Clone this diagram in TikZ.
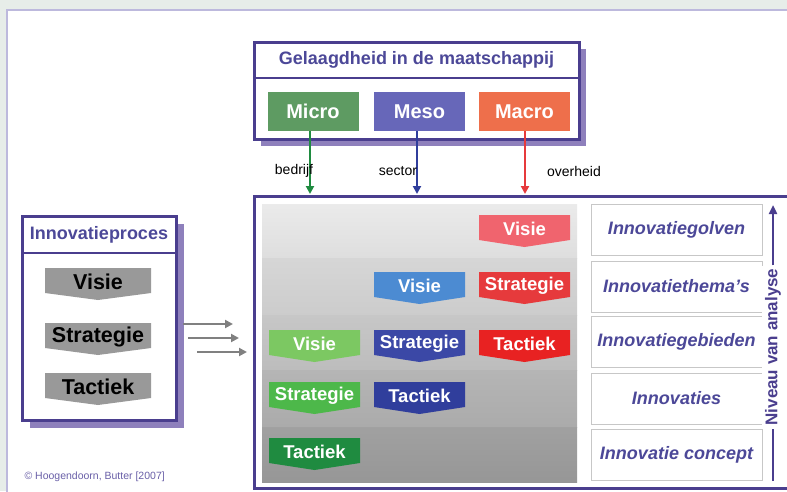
\documentclass[tikz,border=0pt]{standalone}
\usepackage{fontspec}
\setmainfont{Liberation Sans}
\usetikzlibrary{arrows.meta,positioning}

\definecolor{bgrey}{HTML}{E7EDE9}
\definecolor{rim}{HTML}{BDB9DD}
\definecolor{paars}{HTML}{4A3E8E}
\definecolor{schaduw}{HTML}{8E80BC}
\definecolor{titel}{HTML}{4C4898}
\definecolor{micro}{HTML}{5E9B62}
\definecolor{meso}{HTML}{6767B9}
\definecolor{macro}{HTML}{EE6F4B}
\definecolor{groenA}{HTML}{7CC862}
\definecolor{groenB}{HTML}{4DB84A}
\definecolor{groenC}{HTML}{1F8B40}
\definecolor{blauwA}{HTML}{4C8BD2}
\definecolor{blauwB}{HTML}{3B48A6}
\definecolor{blauwC}{HTML}{303E9C}
\definecolor{roodA}{HTML}{F0646E}
\definecolor{roodB}{HTML}{E63A3C}
\definecolor{roodC}{HTML}{E82222}
\definecolor{pijlgrijs}{HTML}{808080}
\definecolor{bronkleur}{HTML}{6A60A8}

\newcommand{\fs}[1]{\fontsize{#1}{#1}\selectfont}

% naam, x, y, breedte, kleur, tekstkleur, tekst
\newcommand{\chevron}[7]{%
  \fill[#5] (#2,#3) -- ++(#4,0) -- ++(0,25) -- ++(-#4/2,7) -- ++(-#4/2,-7) -- cycle;
  \node[chevtekst,text=#6] (#1) at (#2+#4/2,#3+14) {#7};}

\tikzset{
  chevtekst/.style={font=\bfseries\fs{18.5}, inner sep=0pt},
  titeltekst/.style={font=\bfseries\fs{18}, text=titel},
  schaalblok/.style={minimum width=91pt, minimum height=39pt, font=\bfseries\fs{20}, text=white},
  niveaublok/.style={draw=black!22, fill=white, line width=1pt, minimum width=171pt, minimum height=51pt, font=\bfseries\itshape\fs{18}, text=titel},
  pijltekst/.style={font=\fs{14}},
  neerpijl/.style={line width=2pt, -{Triangle[length=8pt,width=8pt]}},
  grijspijl/.style={pijlgrijs, line width=2.2pt, -{Triangle[length=8pt,width=8pt]}}
}

\begin{document}
\begin{tikzpicture}[x=1pt,y=-1pt]
        \useasboundingbox (0,0) rectangle (787,491);
        \fill[bgrey] (0,0) rectangle (787,491);
        \draw[rim, fill=white, line width=1.5pt] (7,10) rectangle (792,496);

        % bovenste blok
        \fill[schaduw] (261,49) rectangle (586,146);
        \draw[paars, line width=3pt, fill=white] (254,42) rectangle (579,139);
        \draw[paars, line width=2pt] (254,78) -- (579,78);
        \node[titeltekst] (gelaagd) at (416.5,60) {Gelaagdheid in de maatschappij};
        \node[schaalblok, fill=micro] (micro) at (313,111.5) {Micro};
        \node[schaalblok, fill=meso] (meso) at (419.5,111.5) {Meso};
        \node[schaalblok, fill=macro] (macro) at (524.5,111.5) {Macro};

        \coordinate (bedrijfpunt) at (310,194);
        \coordinate (sectorpunt) at (417,194);
        \coordinate (overheidpunt) at (525,194);
        \draw[neerpijl, groenC] (micro.south -| bedrijfpunt) -- (bedrijfpunt);
        \draw[neerpijl, blauwC] (meso.south -| sectorpunt) -- (sectorpunt);
        \draw[neerpijl, roodB] (macro.south -| overheidpunt) -- (overheidpunt);
        \node[pijltekst] (bedrijf) at (294,171) {bedrijf};
        \node[pijltekst] (sector) at (398,171) {sector};
        \node[pijltekst] (overheid) at (574,171) {overheid};

        % hoofdblok
        \foreach \boven/\onder/\a/\b in {204/258/8/13, 258/315/16/20, 315/370/22/26, 370/427/29/33, 427/482/37/41}
          \shade[top color=black!\a, bottom color=black!\b] (262,\boven) rectangle (577,\onder);
        \draw[paars, line width=3pt] (254,196) rectangle (792,488);

        \chevron{v3}{479}{215}{91}{roodA}{white}{Visie}
        \chevron{v2}{374}{272}{91}{blauwA}{white}{Visie}
        \chevron{s3}{479}{272}{91}{roodB}{white}{Strategie}
        \chevron{v1}{269}{330}{91}{groenA}{white}{Visie}
        \chevron{s2}{374}{330}{91}{blauwB}{white}{Strategie}
        \chevron{t3}{479}{330}{91}{roodC}{white}{Tactiek}
        \chevron{s1}{269}{382}{91}{groenB}{white}{Strategie}
        \chevron{t2}{374}{382}{91}{blauwC}{white}{Tactiek}
        \chevron{t1}{269}{438}{91}{groenC}{white}{Tactiek}

        % niveaus rechts
        \node[niveaublok] (golven) at (676.5,230) {Innovatiegolven};
        \node[niveaublok] (themas) at (676.5,286.5) {Innovatiethema’s};
        \node[niveaublok] (gebieden) at (676.5,342) {Innovatiegebieden};
        \node[niveaublok] (innovaties) at (676.5,398.5) {Innovaties};
        \node[niveaublok] (concept) at (676.5,454.5) {Innovatie concept};

        \node[rotate=90, fill=white, inner sep=3pt, text=paars, font=\bfseries\fs{17}] (niveau) at (773,347) {Niveau van analyse};
        \coordinate (niveauonder) at (773,481);
        \coordinate (niveauboven) at (773,205);
        \draw[paars, line width=2.5pt] (niveauonder) -- (niveau.west);
        \draw[paars, line width=2.5pt, -{Triangle[length=9pt,width=8pt]}] (niveau.east) -- (niveauboven);

        % innovatieproces links
        \fill[schaduw] (30,224) rectangle (184,428);
        \draw[paars, line width=3pt, fill=white] (22,216) rectangle (176,420);
        \draw[paars, line width=2pt] (22,253) -- (176,253);
        \node[titeltekst] (proces) at (99,235) {Innovatieproces};
        \chevron{visie}{45}{268}{106}{black!40}{black}{\fs{21.5}Visie}
        \chevron{strategie}{45}{323}{106}{black!40}{black}{\fs{21.5}Strategie}
        \chevron{tactiek}{45}{373}{106}{black!40}{black}{\fs{21.5}Tactiek}

        \coordinate (p1) at (183,324);
        \coordinate (q1) at (233,324);
        \coordinate (p2) at (188,338);
        \coordinate (q2) at (239,338);
        \coordinate (p3) at (197,352);
        \coordinate (q3) at (247,352);
        \draw[grijspijl] (p1) -- (q1);
        \draw[grijspijl] (p2) -- (q2);
        \draw[grijspijl] (p3) -- (q3);

        \node[anchor=west, text=bronkleur, font=\fs{10.5}] (bron) at (21,477) {© Hoogendoorn, Butter [2007]};
    \end{tikzpicture}
\end{document}
